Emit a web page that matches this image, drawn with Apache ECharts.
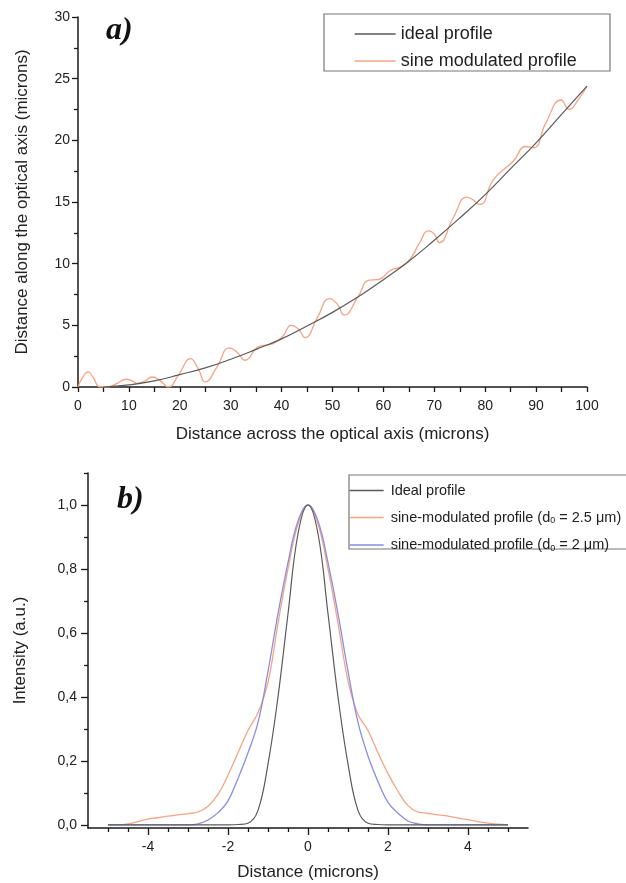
<!DOCTYPE html>
<html><head><meta charset="utf-8">
<script src="https://cdn.jsdelivr.net/npm/echarts@6/dist/echarts.min.js"></script>
<style>html,body{margin:0;padding:0;background:#fff}#c{width:626px;height:883px}</style>
</head><body><div id="c"></div>
<script>
// ---------- panel a) ----------
const aIdealX = [5,10,15,20,25,30,35,40,45,50,55,60,65,70,75,80,85,90,95,100];
const aIdealY = [0,0.17,0.5,1.0,1.55,2.25,3.05,3.9,4.95,6.05,7.3,8.7,10.2,11.9,13.7,15.6,17.7,19.8,22.1,24.4];
const aSineX = [0,1,2,3,4.3,6,7.7,9.5,10.6,11.7,13,14.6,16.2,17.7,19.8,22.1,23.6,25.0,27.4,29.7,31.3,32.8,35.4,38.3,40.2,41.9,43.3,44.6,47,49.4,51,52.3,55,57.2,59.1,61.4,63.4,65.3,67,68.9,70,71,73.7,76.4,77.5,79,81.6,85.5,88,89.5,91.9,94.9,96.5,98.3,100];
const aSineY = [0,0.85,1.22,0.75,0.02,0.02,0.3,0.63,0.5,0.30,0.45,0.81,0.5,0.0,1.0,2.30,1.5,0.41,1.7,3.17,2.8,2.17,3.25,3.52,4.1,5.0,4.7,4.0,5.6,7.17,6.7,5.82,7.3,8.66,8.72,9.47,9.74,10.4,11.6,12.66,12.4,11.7,13.7,15.4,15.2,14.8,16.8,18.3,19.5,19.4,21.4,23.27,22.5,23.3,24.4];
const aNames = ['ideal profile','sine modulated profile'];

// ---------- panel b) ----------
const bX = [-5,-4.75,-4.5,-4.25,-4,-3.75,-3.5,-3.25,-3,-2.75,-2.5,-2.25,-2,-1.75,-1.5,-1.25,-1,-0.75,-0.5,-0.25,0,0.25,0.5,0.75,1,1.25,1.5,1.75,2,2.25,2.5,2.75,3,3.25,3.5,3.75,4,4.25,4.5,4.75,5];
const bIdeal = [0,0,0,0,0,0,0,0,0,0,0,0,0,0.001,0.005,0.045,0.19,0.40,0.66,0.91,1.0,0.91,0.66,0.40,0.19,0.045,0.005,0.001,0,0,0,0,0,0,0,0,0,0,0,0,0];
const bSine25 = [0,0,0.003,0.01,0.018,0.022,0.027,0.031,0.035,0.04,0.058,0.095,0.155,0.225,0.295,0.35,0.445,0.63,0.80,0.94,1.0,0.94,0.80,0.63,0.45,0.345,0.295,0.225,0.16,0.105,0.06,0.04,0.036,0.031,0.027,0.021,0.016,0.01,0.005,0.002,0];
const bSine2 = [0,0,0,0,0,0,0,0,0,0.003,0.015,0.038,0.075,0.145,0.225,0.32,0.48,0.66,0.82,0.95,1.0,0.95,0.82,0.66,0.48,0.32,0.215,0.135,0.07,0.036,0.012,0.003,0,0,0,0,0,0,0,0,0];
const bNames = ['Ideal profile','sine-modulated profile (d0 = 2.5 \u03bcm)','sine-modulated profile (d0 = 2 \u03bcm)'];
const bXLabels = [-4,-2,0,2,4];
const bXMinor = [-5,-4.5,-3.5,-3,-2.5,-1.5,-1,-0.5,0.5,1,1.5,2.5,3,3.5,4.5,5];
const bYLabels = [0,0.2,0.4,0.6,0.8,1.0];
const bYMinor = [0.1,0.3,0.5,0.7,0.9,1.1];

const FONT = '"Liberation Sans", Arial, sans-serif';
const AXC = '#1a1a1a';
const TXT = '#222';
const C_GREY = '#5a5a5a', C_ORANGE = '#f5a484', C_BLUE = '#8a8ee2';
const zip = (xs, ys) => xs.map((x, i) => [x, ys[i]]);
const comma = v => v.toFixed(1).replace('.', ',');

const axLine = {show:true, onZero:false, lineStyle:{color:AXC, width:1.5}};
const nameStyle = {fontFamily:FONT, fontSize:17, color:TXT};
const lblStyle = {fontFamily:FONT, fontSize:14, color:TXT};

const chart = echarts.init(document.getElementById('c'));
chart.setOption({
  animation:false,
  backgroundColor:'#fff',
  grid:[
    {left:78, top:17, width:509, height:370},
    {left:88, top:473, width:440, height:355}
  ],
  xAxis:[
    {gridIndex:0, type:'value', min:0, max:100, interval:10,
     axisLine:axLine, axisTick:{show:true, length:5, lineStyle:{color:AXC,width:1.3}},
     minorTick:{show:true, splitNumber:2, length:5, lineStyle:{color:AXC,width:1.3}},
     splitLine:{show:false}, axisLabel:Object.assign({margin:12}, lblStyle),
     name:'Distance across the optical axis (microns)', nameLocation:'middle', nameGap:39, nameTextStyle:nameStyle},
    {gridIndex:1, type:'value', min:-5.5, max:5.5, position:'bottom',
     axisLine:axLine, axisTick:{show:true, length:7, customValues:bXLabels, lineStyle:{color:AXC,width:1.3}},
     splitLine:{show:false}, axisLabel:Object.assign({margin:12, customValues:bXLabels}, lblStyle),
     name:'Distance (microns)', nameLocation:'middle', nameGap:36, nameTextStyle:nameStyle},
    {gridIndex:1, type:'value', min:-5.5, max:5.5, position:'bottom',
     axisLine:{show:false, onZero:false}, axisTick:{show:true, length:4, customValues:bXMinor, lineStyle:{color:AXC,width:1.3}},
     splitLine:{show:false}, axisLabel:{show:false}}
  ],
  yAxis:[
    {gridIndex:0, type:'value', min:0, max:30, interval:5,
     axisLine:axLine, axisTick:{show:true, length:6, lineStyle:{color:AXC,width:1.3}},
     minorTick:{show:true, splitNumber:2, length:4, lineStyle:{color:AXC,width:1.3}},
     splitLine:{show:false}, axisLabel:Object.assign({margin:8}, lblStyle),
     name:'Distance along the optical axis (microns)', nameLocation:'middle', nameGap:47, nameTextStyle:nameStyle},
    {gridIndex:1, type:'value', min:-0.01, max:1.1, position:'left',
     axisLine:axLine, axisTick:{show:true, length:7, customValues:bYLabels, lineStyle:{color:AXC,width:1.3}},
     splitLine:{show:false}, axisLabel:Object.assign({margin:11, customValues:bYLabels, formatter:comma}, lblStyle),
     name:'Intensity (a.u.)', nameLocation:'middle', nameGap:59, nameTextStyle:nameStyle},
    {gridIndex:1, type:'value', min:-0.01, max:1.1, position:'left',
     axisLine:{show:false, onZero:false}, axisTick:{show:true, length:4, customValues:bYMinor, lineStyle:{color:AXC,width:1.3}},
     splitLine:{show:false}, axisLabel:{show:false}}
  ],
  legend:[
    {data:aNames, orient:'vertical', left:354, top:25, padding:0, itemWidth:41, itemHeight:14, itemGap:9,
     itemStyle:{opacity:0}, lineStyle:{width:1.3},
     textStyle:{fontFamily:FONT, fontSize:18, color:TXT}, selectedMode:false},
    {data:bNames, orient:'vertical', left:349, top:483, padding:0, itemWidth:34, itemHeight:12, itemGap:12,
     itemStyle:{opacity:0}, lineStyle:{width:1.3},
     textStyle:{fontFamily:FONT, fontSize:14.5, color:TXT, padding:[0,0,0,2],
       rich:{t:{fontFamily:FONT, fontSize:14.5, color:TXT}, s:{fontFamily:FONT, fontSize:9, color:TXT, padding:[7,0,0,0]}}},
     formatter: n => {
       const i = n.indexOf('d0');
       if (i < 0) return '{t|' + n + '}';
       return '{t|' + n.slice(0, i + 1) + '}{s|0}{t|' + n.slice(i + 2) + '}';
     },
     selectedMode:false}
  ],
  graphic:[
    {type:'rect', shape:{x:324, y:14, width:286, height:57}, style:{fill:'none', stroke:'#777', lineWidth:1.2}, silent:true},
    {type:'rect', shape:{x:349, y:475, width:300, height:74}, style:{fill:'none', stroke:'#777', lineWidth:1.2}, silent:true},
    {type:'text', left:106, top:15, style:{text:'a)', font:'italic bold 32px "Liberation Serif", "Times New Roman", serif', fill:'#111'}},
    {type:'text', left:117, top:484, style:{text:'b)', font:'italic bold 32px "Liberation Serif", "Times New Roman", serif', fill:'#111'}}
  ],
  series:[
    {name:aNames[1], type:'line', xAxisIndex:0, yAxisIndex:0, data:zip(aSineX, aSineY), smooth:0.5, symbol:'none',
     lineStyle:{color:C_ORANGE, width:1.3}, itemStyle:{color:C_ORANGE}},
    {name:aNames[0], type:'line', xAxisIndex:0, yAxisIndex:0, data:zip(aIdealX, aIdealY), smooth:true, symbol:'none',
     lineStyle:{color:C_GREY, width:1.2}, itemStyle:{color:C_GREY}},
    {name:bNames[1], type:'line', xAxisIndex:1, yAxisIndex:1, data:zip(bX, bSine25), smooth:0.4, symbol:'none',
     lineStyle:{color:C_ORANGE, width:1.3}, itemStyle:{color:C_ORANGE}},
    {name:bNames[2], type:'line', xAxisIndex:1, yAxisIndex:1, data:zip(bX, bSine2), smooth:0.4, symbol:'none',
     lineStyle:{color:C_BLUE, width:1.3}, itemStyle:{color:C_BLUE}},
    {name:bNames[0], type:'line', xAxisIndex:1, yAxisIndex:1, data:zip(bX, bIdeal), smooth:0.4, symbol:'none',
     lineStyle:{color:C_GREY, width:1.2}, itemStyle:{color:C_GREY}}
  ]
});
</script></body></html>
